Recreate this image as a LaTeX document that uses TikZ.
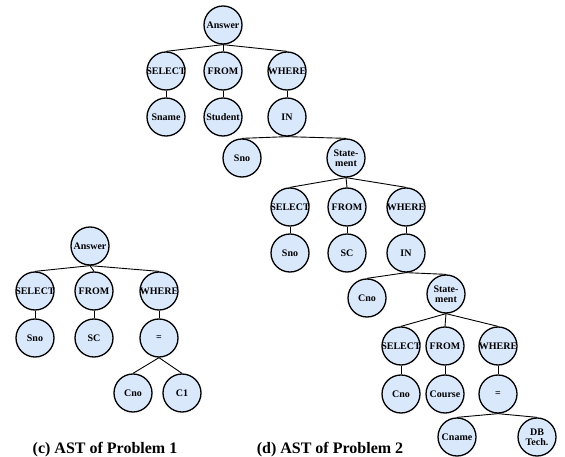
\documentclass[tikz,border=0pt]{standalone}
\usepackage{fontspec}
\setmainfont{Liberation Serif}
\definecolor{nodefill}{HTML}{DAE8FC}
\begin{document}
\begin{tikzpicture}[x=1pt,y=-1pt,
  astnode/.style={circle,draw=black,line width=1.3pt,fill=nodefill,minimum size=38pt,inner sep=0pt,
    font=\fontsize{10}{10}\selectfont\bfseries,align=center},
  link/.style={line width=0.9pt,draw=black},
  caption/.style={font=\fontsize{16}{18}\selectfont\bfseries,anchor=base}]
\useasboundingbox (0,0) rectangle (565,457);
% Tree 1
\node[astnode] (a1) at (90,246) {\makebox[0pt]{Answer}};
\node[astnode] (s1) at (35,291) {\makebox[0pt]{SELECT}};
\node[astnode] (f1) at (94,291) {\makebox[0pt]{FROM}};
\node[astnode] (w1) at (159,291) {\makebox[0pt]{WHERE}};
\node[astnode] (sno1) at (35,338) {\makebox[0pt]{Sno}};
\node[astnode] (sc1) at (94,338) {\makebox[0pt]{SC}};
\node[astnode] (eq1) at (159,338) {\makebox[0pt]{=}};
\node[astnode] (cno1) at (133,393) {\makebox[0pt]{Cno}};
\node[astnode] (c1) at (182,393) {\makebox[0pt]{C1}};
% Tree 2
\node[astnode] (a2) at (223,25) {\makebox[0pt]{Answer}};
\node[astnode] (s2) at (166,71) {\makebox[0pt]{SELECT}};
\node[astnode] (f2) at (223,71) {\makebox[0pt]{FROM}};
\node[astnode] (w2) at (287,71) {\makebox[0pt]{WHERE}};
\node[astnode] (sname) at (166,117) {\makebox[0pt]{Sname}};
\node[astnode] (student) at (223,117) {\makebox[0pt]{Student}};
\node[astnode] (in2) at (287,117) {\makebox[0pt]{IN}};
\node[astnode] (sno2) at (242,158) {\makebox[0pt]{Sno}};
\node[astnode] (st2) at (346,158) {State-\\ment};
\node[astnode] (s3) at (290,207) {\makebox[0pt]{SELECT}};
\node[astnode] (f3) at (347,207) {\makebox[0pt]{FROM}};
\node[astnode] (w3) at (406,207) {\makebox[0pt]{WHERE}};
\node[astnode] (sno3) at (290,253) {\makebox[0pt]{Sno}};
\node[astnode] (sc3) at (347,253) {\makebox[0pt]{SC}};
\node[astnode] (in3) at (406,253) {\makebox[0pt]{IN}};
\node[astnode] (cno3) at (367,298) {\makebox[0pt]{Cno}};
\node[astnode] (st3) at (446,294) {State-\\ment};
\node[astnode] (s4) at (401,346) {\makebox[0pt]{SELECT}};
\node[astnode] (f4) at (445,346) {\makebox[0pt]{FROM}};
\node[astnode] (w4) at (498,346) {\makebox[0pt]{WHERE}};
\node[astnode] (cno4) at (401,394) {\makebox[0pt]{Cno}};
\node[astnode] (course) at (445,394) {\makebox[0pt]{Course}};
\node[astnode] (eq4) at (498,394) {\makebox[0pt]{=}};
\node[astnode] (cname) at (457,437) {\makebox[0pt]{Cname}};
\node[astnode] (db) at (537,437) {DB\\Tech.};
% Edges tree 1
\foreach \p/\c in {a1/s1,a1/f1,a1/w1,s1/sno1,f1/sc1,w1/eq1,eq1/cno1,eq1/c1}
  \draw[link] (\p.south) -- (\c.north);
% Edges tree 2
\foreach \p/\c in {a2/s2,a2/f2,a2/w2,s2/sname,f2/student,w2/in2,in2/sno2,in2/st2,
  st2/s3,st2/f3,st2/w3,s3/sno3,f3/sc3,w3/in3,in3/cno3,in3/st3,
  st3/s4,st3/f4,st3/w4,s4/cno4,f4/course,w4/eq4,eq4/cname,eq4/db}
  \draw[link] (\p.south) -- (\c.north);
% Captions
\node[caption] (cap1) at (105,453) {(c) AST of Problem 1};
\node[caption] (cap2) at (330,453) {(d) AST of Problem 2};
\end{tikzpicture}
\end{document}
